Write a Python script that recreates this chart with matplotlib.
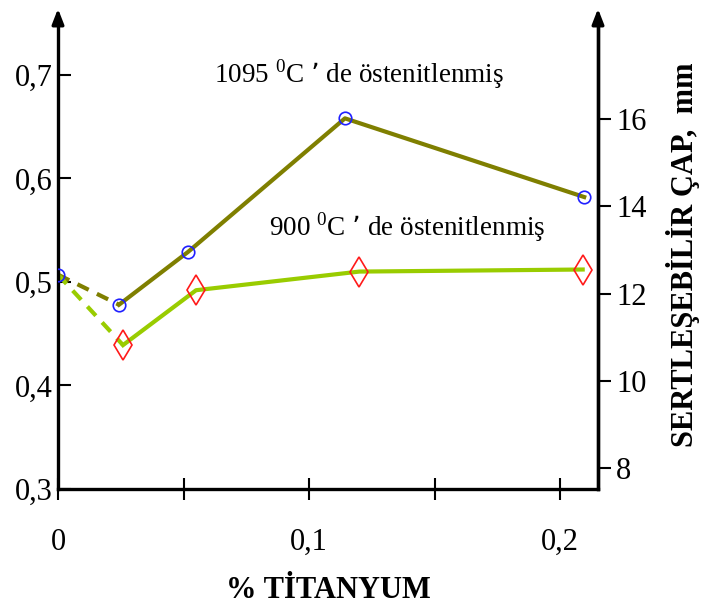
import matplotlib
matplotlib.use('Agg')
import matplotlib.pyplot as plt

plt.rcParams['font.family'] = ['Liberation Serif', 'DejaVu Serif']

# data
ti_1095 = [0.0, 0.0243, 0.0518, 0.1143, 0.2096]
cap_1095 = [0.507, 0.478, 0.529, 0.658, 0.582]
ti_900 = [0.0, 0.0259, 0.055, 0.120, 0.209]
cap_900 = [0.507, 0.439, 0.492, 0.510, 0.512]

x_ticks = [0, 0.05, 0.1, 0.15, 0.2]
x_labels = ['0', '', '0,1', '', '0,2']
left_ticks = [0.3, 0.4, 0.5, 0.6, 0.7]
left_labels = ['0,3', '0,4', '0,5', '0,6', '0,7']
right_ticks = [8, 10, 12, 14, 16]

olive = '#7f7f00'
lime = '#99cc00'

fig = plt.figure(figsize=(7.03, 6.13), dpi=100)
ax = fig.add_axes([58/703, (613-489)/613, (598-58)/703, (489-20)/613])
ax.set_xlim(0, 0.2151)
ax.set_ylim(0.3, 0.753)

# dashed start segments
ax.plot(ti_1095[:2], cap_1095[:2], color=olive, lw=3, ls=(0, (3, 2.2)), zorder=2)
ax.plot(ti_900[:2], cap_900[:2], color=lime, lw=3, ls=(0, (3, 2.2)), zorder=2)
# solid segments
ax.plot(ti_1095[1:], cap_1095[1:], color=olive, lw=3, zorder=2)
ax.plot(ti_900[1:], cap_900[1:], color=lime, lw=3, zorder=2)
# markers
ax.plot(ti_1095, cap_1095, ls='none', marker='o', ms=9, mfc='none', mec='#2020ff', mew=1.2, zorder=3)
ax.plot(ti_900[1:], cap_900[1:], ls='none', marker='d', ms=15, mfc='none', mec='#ff1a1a', mew=1.2, zorder=3)

ax.spines['top'].set_visible(False)
for s in ['left', 'bottom', 'right']:
    ax.spines[s].set_linewidth(2.4)

ax.set_xticks(x_ticks)
ax.set_xticklabels(x_labels, fontsize=22)
ax.tick_params(axis='x', direction='inout', length=16, width=1.5, pad=20)
ax.set_yticks(left_ticks)
ax.set_yticklabels(left_labels, fontsize=22)
ax.tick_params(axis='y', direction='in', length=9, width=1.5, pad=4)

ax2 = ax.twinx()
ax2.set_ylim(7.52, 18.27)
ax2.set_yticks(right_ticks)
ax2.set_yticklabels([str(t) for t in right_ticks], fontsize=22)
ax2.tick_params(axis='y', direction='out', length=9, width=1.5, pad=4)
for s in ['top', 'left', 'bottom']:
    ax2.spines[s].set_visible(False)
ax2.spines['right'].set_linewidth(2.4)

ax.set_xlabel('% TİTANYUM', fontsize=22, fontweight='bold', labelpad=14)
ax2.set_ylabel('SERTLEŞEBİLİR ÇAP,  mm', fontsize=22, fontweight='bold', labelpad=14)

# axis arrows
for xa in [0.0, 1.0]:
    ax.annotate('', xy=(xa, 1.03), xycoords='axes fraction', xytext=(xa, 0.99),
                arrowprops=dict(arrowstyle='-|>,head_length=0.9,head_width=0.35', color='black', lw=2.4),
                annotation_clip=False)

ax.text(0.0620, 0.693, r'1095 $^{\mathregular{0}}$C ’ de östenitlenmiş', fontsize=19.5)
ax.text(0.0841, 0.545, r'900 $^{\mathregular{0}}$C ’ de östenitlenmiş', fontsize=19.5)

fig.savefig('out.png', dpi=100)
